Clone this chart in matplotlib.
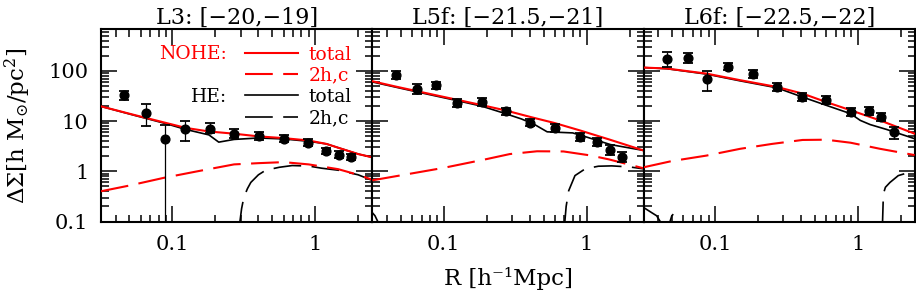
import numpy as np
import matplotlib
matplotlib.use("Agg")
import matplotlib.pyplot as plt
from matplotlib.ticker import FuncFormatter, NullFormatter, LogLocator

plt.rcParams['font.family'] = ['DejaVu Serif', 'DejaVu Sans']
plt.rcParams['mathtext.fontset'] = 'dejavuserif'
plt.rcParams['lines.scale_dashes'] = False

# ---------------- data ----------------
titles = ["L3: [\u221220,\u221219]", "L5f: [\u221221.5,\u221221]", "L6f: [\u221222.5,\u221222]"]

R = [0.046, 0.065, 0.088, 0.123, 0.184, 0.272, 0.405, 0.603, 0.893, 1.19, 1.46, 1.78]

# measured Delta Sigma with upper / lower error-bar ends
L3_y = [33.6, 14.7, 4.3, 7.05, 7.05, 5.6, 5.0, 4.45, 3.7, 2.52, 2.13, 1.95]
L3_hi = [39.7, 21.5, 8.5, 9.86, 9.1, 7.0, 6.0, 5.2, 4.3, 2.94, 2.48, 2.23]
L3_lo = [25.9, 7.95, 0.01, 3.98, 5.75, 4.5, 4.1, 3.8, 3.2, 2.17, 1.83, 1.64]

L5_y = [81.7, 44.4, 51.6, 23.3, 23.9, 15.6, 9.3, 7.25, 4.8, 3.81, 2.6, 1.91]
L5_hi = [97, 54, 61, 27, 28.3, 18.5, 11.1, 8.7, 5.8, 4.6, 3.3, 2.4]
L5_lo = [69, 35.2, 43.5, 19, 20.2, 13.2, 7.8, 6.1, 4.0, 3.2, 2.1, 1.5]

L6_y = [168, 182, 70.2, 120, 86.7, 47.8, 30.1, 26.7, 15.1, 15.6, 11.9, 5.94]
L6_hi = [232, 221, 99.6, 140, 103, 57, 36, 32, 18.1, 18.7, 14.2, 7.6]
L6_lo = [120, 140, 40.5, 103, 73, 40, 25, 22, 12.6, 13, 10, 4.3]

# model curves: NOHE total / NOHE 2h,c / HE total / HE 2h,c
L3_nohe_tot_R = [0.0316, 0.053, 0.091, 0.124, 0.18, 0.27, 0.4, 0.6, 0.9, 1.2, 1.45, 2.0, 2.5]
L3_nohe_tot = [19.6, 13.4, 9.1, 7.3, 6.2, 5.6, 4.95, 4.57, 4.1, 3.5, 2.94, 2.2, 1.9]
L3_he_tot_R = [0.0316, 0.053, 0.091, 0.124, 0.18, 0.211, 0.27, 0.4, 0.6, 0.9, 1.2, 1.45, 2.0, 2.5]
L3_he_tot = [19.6, 13.2, 8.8, 6.8, 5.3, 3.8, 4.3, 4.6, 4.4, 3.95, 3.5, 2.94, 2.2, 1.9]
L3_nohe_2h_R = [0.0316, 0.05, 0.087, 0.15, 0.27, 0.4, 0.6, 0.9, 1.2, 1.45, 2.0, 2.5]
L3_nohe_2h = [0.40, 0.52, 0.74, 1.0, 1.37, 1.45, 1.52, 1.37, 1.2, 1.1, 0.85, 0.68]
L3_he_2h_R = [0.29, 0.297, 0.305, 0.316, 0.335, 0.354, 0.40, 0.45, 0.56, 0.69, 0.9, 1.11, 1.45, 2.0, 2.5]
L3_he_2h = [0.07, 0.1, 0.18, 0.3, 0.45, 0.6, 0.85, 1.05, 1.2, 1.3, 1.27, 1.15, 1.05, 0.85, 0.66]

L5_nohe_tot_R = [0.0316, 0.046, 0.065, 0.1, 0.124, 0.184, 0.27, 0.407, 0.6, 0.9, 1.44, 2.5]
L5_nohe_tot = [62, 48.6, 39.3, 30.2, 26.5, 20.8, 16.3, 12, 9.1, 6.5, 4.3, 2.6]
L5_he_tot_R = [0.0316, 0.065, 0.124, 0.184, 0.265, 0.35, 0.43, 0.53, 0.8, 1.0, 1.47, 2.5]
L5_he_tot = [60, 38, 25.5, 19.8, 14.3, 11.0, 8.6, 6.1, 5.8, 4.8, 3.4, 2.6]
L5_nohe_2h_R = [0.0316, 0.1, 0.2, 0.29, 0.45, 0.69, 1.06, 1.44, 2.0, 2.5]
L5_nohe_2h = [0.66, 1.17, 1.75, 2.2, 2.5, 2.48, 2.07, 1.72, 1.35, 1.15]
L5_he_2h_R = [0.0316, 0.033, 0.0345, 0.036, np.nan, 0.69, 0.705, 0.72, 0.75, 0.83, 0.98, 1.21, 1.5, 2.0, 2.5]
L5_he_2h = [0.15, 0.13, 0.1, 0.08, np.nan, 0.07, 0.1, 0.2, 0.41, 0.82, 1.12, 1.26, 1.28, 1.22, 1.12]

L6_nohe_tot_R = [0.0316, 0.046, 0.087, 0.15, 0.27, 0.41, 0.6, 0.89, 1.43, 2.5]
L6_nohe_tot = [116, 111, 88, 65, 47.8, 35.2, 23.9, 16.4, 10.3, 5.6]
L6_he_tot_R = [0.0316, 0.046, 0.087, 0.15, 0.27, 0.41, 0.6, 0.89, 1.04, 1.22, 1.59, 2.5]
L6_he_tot = [116, 110, 86, 63, 46, 30, 20.6, 14.0, 10.3, 8.5, 6.8, 4.45]
L6_nohe_2h_R = [0.0316, 0.05, 0.087, 0.15, 0.25, 0.41, 0.6, 0.89, 1.43, 2.5]
L6_nohe_2h = [1.2, 1.6, 2.05, 2.8, 3.5, 4.2, 4.25, 3.7, 2.8, 2.1]
L6_he_2h_R = [0.0316, 0.036, 0.039, 0.0413, 0.043, np.nan, 0.047, 0.0484, 0.0498, 0.051, np.nan,
              1.48, 1.49, 1.51, 1.56, 1.68, 1.92, 2.2, 2.5]
L6_he_2h = [0.19, 0.15, 0.13, 0.1, 0.08, np.nan, 0.08, 0.1, 0.13, 0.14, np.nan,
            0.07, 0.1, 0.355, 0.48, 0.6, 0.82, 0.92, 0.96]

panels = [
    (L3_y, L3_lo, L3_hi, L3_nohe_tot_R, L3_nohe_tot, L3_he_tot_R, L3_he_tot,
     L3_nohe_2h_R, L3_nohe_2h, L3_he_2h_R, L3_he_2h),
    (L5_y, L5_lo, L5_hi, L5_nohe_tot_R, L5_nohe_tot, L5_he_tot_R, L5_he_tot,
     L5_nohe_2h_R, L5_nohe_2h, L5_he_2h_R, L5_he_2h),
    (L6_y, L6_lo, L6_hi, L6_nohe_tot_R, L6_nohe_tot, L6_he_tot_R, L6_he_tot,
     L6_nohe_2h_R, L6_nohe_2h, L6_he_2h_R, L6_he_2h),
]

# ---------------- figure ----------------
W, H = 916, 296
fig = plt.figure(figsize=(W / 100, H / 100), dpi=100)
ax_left, ax_w = 101 / W, 271.3 / W
ax_bot, ax_h = 74.5 / H, 192.2 / H
dash = (20, 7.5)

fmt = FuncFormatter(lambda v, _: f"{v:g}")
axes = []
for i, (y, lo, hi, ntR, nt, htR, ht, n2R, n2, h2R, h2) in enumerate(panels):
    ax = fig.add_axes([ax_left + i * ax_w, ax_bot, ax_w, ax_h])
    axes.append(ax)
    ax.set_xscale('log')
    ax.set_yscale('log')
    ax.set_xlim(0.0316, 2.51)
    ax.set_ylim(0.1, 670)

    l_he_tot, = ax.plot(htR, ht, color='black', lw=1.2, zorder=2)
    l_he_2h, = ax.plot(h2R, h2, color='black', lw=1.2, dashes=dash, zorder=2)
    l_no_tot, = ax.plot(ntR, nt, color='red', lw=1.5, zorder=3)
    l_no_2h, = ax.plot(n2R, n2, color='red', lw=1.5, dashes=dash, zorder=3)

    y_arr = np.array(y)
    yerr = np.vstack([y_arr - np.array(lo), np.array(hi) - y_arr])
    ax.errorbar(R, y, yerr=yerr, fmt='o', color='black', ms=6.3, elinewidth=0.9,
                capsize=3.8, capthick=1.3, zorder=5)

    ax.set_title(titles[i], fontsize=16, pad=3)
    ax.tick_params(which='both', direction='in', top=True, right=True, width=1.1,
                   labelsize=15)
    ax.tick_params(which='major', length=11.5)
    ax.tick_params(which='minor', length=5.4)
    ax.tick_params(axis='x', pad=10)
    ax.tick_params(axis='y', pad=9)
    ax.xaxis.set_major_formatter(fmt)
    ax.xaxis.set_minor_formatter(NullFormatter())
    ax.yaxis.set_major_locator(LogLocator(base=10, numticks=10))
    ax.yaxis.set_minor_locator(LogLocator(base=10, subs=np.arange(2, 10), numticks=20))
    ax.yaxis.set_major_formatter(fmt)
    ax.yaxis.set_minor_formatter(NullFormatter())
    if i > 0:
        ax.yaxis.set_major_formatter(NullFormatter())
    for s in ax.spines.values():
        s.set_linewidth(1.5)

    if i == 0:
        leg = ax.legend([l_no_tot, l_no_2h, l_he_tot, l_he_2h],
                        ['total', '2h,c', 'total', '2h,c'],
                        loc='upper left', bbox_to_anchor=(0.531, 0.915),
                        frameon=False, fontsize=13.5, handlelength=2.8,
                        handletextpad=0.6, labelspacing=0.17, borderpad=0,
                        borderaxespad=0,
                        labelcolor=['red', 'red', 'black', 'black'])
        ax.text(0.464, 0.870, 'NOHE:', color='red', fontsize=13.5, ha='right',
                va='center', transform=ax.transAxes)
        ax.text(0.464, 0.649, 'HE:', color='black', fontsize=13.5, ha='right',
                va='center', transform=ax.transAxes)

fig.text(0.5546, 0.06, 'R [h\u207b\u00b9Mpc]', ha='center', va='center', fontsize=16.5)
fig.text(0.02, (ax_bot + ax_h / 2), r'$\Delta\Sigma$[h M$_{\odot}$/pc$^2$]',
         rotation=90, ha='center', va='center', fontsize=16.5)

fig.savefig('out.png', dpi=100)
